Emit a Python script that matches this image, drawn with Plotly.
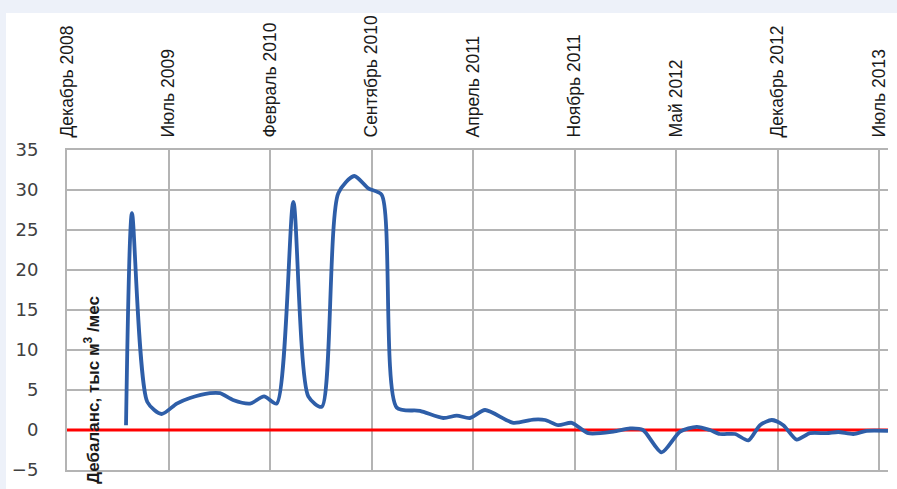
import plotly.graph_objects as go

# Month index (0 = Dec 2008) and monthly imbalance, thousand m3
month_idx = [4.07, 4.48, 5.54, 6.53, 7.57, 8.48, 9.86, 10.55, 11.45, 12.62,
             13.59, 14.46, 15.61, 16.64, 17.57, 18.71, 19.81, 20.78, 21.70, 22.74,
             24.34, 25.95, 26.88, 27.79, 28.83, 30.78, 32.16, 32.97, 33.88, 34.81,
             35.95, 37.68, 38.83, 39.72, 41.01, 42.28, 43.43, 44.34, 45.03, 46.07,
             46.99, 47.79, 48.60, 49.40, 50.32, 51.24, 52.39, 53.19, 54.23, 55.15,
             56.62]
imbalance = [0.6, 27.1, 3.5, 2.0, 3.3, 4.0, 4.6, 4.6, 3.75, 3.3,
             4.2, 3.3, 28.5, 4.2, 2.9, 29.6, 31.75, 30.2, 29.4, 2.8,
             2.4, 1.5, 1.8, 1.5, 2.5, 0.9, 1.3, 1.25, 0.6, 0.9,
             -0.4, -0.2, 0.2, 0.0, -2.8, -0.2, 0.4, 0.0, -0.5, -0.5,
             -1.3, 0.6, 1.25, 0.6, -1.2, -0.4, -0.4, -0.25, -0.5, -0.1,
             -0.1]

tick_idx = [0, 7, 14, 21, 28, 35, 42, 49, 56]
tick_labels = ["Декабрь 2008", "Июль 2009", "Февраль 2010", "Сентябрь 2010",
               "Апрель 2011", "Ноябрь 2011", "Май 2012", "Декабрь 2012", "Июль 2013"]
y_ticks = [-5, 0, 5, 10, 15, 20, 25, 30, 35]

x_max = 56.62
grid = "#b4b4b4"

fig = go.Figure()

# zero reference
fig.add_trace(go.Scatter(x=[0, x_max], y=[0, 0], mode="lines",
                         line=dict(color="#ff0000", width=3),
                         hoverinfo="skip", showlegend=False))

fig.add_trace(go.Scatter(x=month_idx, y=imbalance, mode="lines",
                         line=dict(color="#2e5ea8", width=3.8, shape="spline", smoothing=0.7),
                         showlegend=False))

narrow = "Liberation Sans Narrow, Arial Narrow, Liberation Sans, sans-serif"

fig.update_layout(
    width=897, height=489,
    margin=dict(l=67, r=9, t=150, b=19),
    paper_bgcolor="#edf1f9",
    plot_bgcolor="#ffffff",
    shapes=[dict(type="rect", xref="paper", yref="paper",
                 x0=(6 - 67) / 821, x1=(897 - 67) / 821,
                 y0=-19 / 320, y1=(470 - 13) / 320,
                 fillcolor="#ffffff", line=dict(width=0), layer="below")],
    xaxis=dict(range=[0, x_max], side="top", tickmode="array",
               tickvals=tick_idx, ticktext=tick_labels, tickangle=-90,
               tickfont=dict(family=narrow, size=17.5, color="#1a1a1a"),
               showgrid=True, gridcolor=grid, gridwidth=2,
               showline=True, linecolor=grid, linewidth=2, mirror=True,
               zeroline=False, ticks="", ticklabelstandoff=7, automargin=False),
    yaxis=dict(range=[-5, 35], tickmode="array", tickvals=y_ticks,
               tickfont=dict(family="DejaVu Sans", size=18, color="#404040"),
               showgrid=True, gridcolor=grid, gridwidth=2,
               showline=True, linecolor=grid, linewidth=2,
               zeroline=False, ticks="", ticklabelstandoff=23, automargin=False),
    annotations=[dict(text="Дебаланс, тыс м<sup>3</sup> /мес", textangle=-90,
                      xref="paper", yref="paper", x=(92 - 67) / 821, y=(470 - 390) / 320,
                      showarrow=False, xanchor="center", yanchor="middle",
                      font=dict(family=narrow, size=17, color="#1a1a1a", weight="bold"))],
)

fig.write_html("out.html")
